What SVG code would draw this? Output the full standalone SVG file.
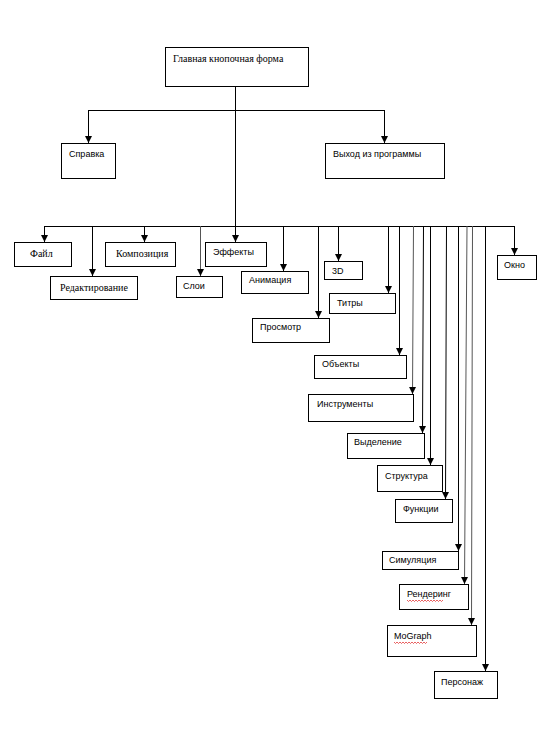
<svg xmlns="http://www.w3.org/2000/svg" width="542" height="737" viewBox="0 0 542 737">
<defs>
<marker id="ah" markerUnits="userSpaceOnUse" markerWidth="8" markerHeight="8" refX="7" refY="3.5" orient="auto">
<path d="M0,0 L7,3.5 L0,7 z" fill="#000"/>
</marker>
<style>
.box{fill:#fff;stroke:#000;stroke-width:1}
.ln{fill:none;stroke:#000;stroke-width:1}
.g{stroke:#555}
.ar{marker-end:url(#ah)}
.s{font-family:"Liberation Sans",Arial,sans-serif;font-size:9px;fill:#000}
.t{font-family:"Liberation Serif","Times New Roman",serif;font-size:10px;fill:#000}
.wv{fill:none;stroke:#e02020;stroke-width:0.7}
</style>
</defs>
<rect width="542" height="737" fill="#fff"/>
<g id="connectors">
<path class="ln ar" d="M235.5,87 V242"/>
<path class="ln" d="M88.5,110.5 H384.5"/>
<path class="ln ar" d="M88.5,110 V143"/>
<path class="ln ar" d="M384.5,110 V143"/>
<path class="ln" d="M44.5,226.5 H514.5"/>
<path class="ln ar" d="M44.5,226 V242"/>
<path class="ln ar" d="M92.5,226 V276"/>
<path class="ln ar" d="M144.5,226 V242"/>
<path class="ln g ar" d="M200.5,226 V276"/>
<path class="ln ar" d="M283.5,226 V271"/>
<path class="ln ar" d="M318.5,226 V318"/>
<path class="ln ar" d="M338.5,226 V261"/>
<path class="ln ar" d="M388.5,226 V293"/>
<path class="ln ar" d="M399.5,226 V355"/>
<path class="ln g ar" d="M413.5,226 L412.5,394"/>
<path class="ln ar" d="M423.5,226 L422.5,433"/>
<path class="ln ar" d="M430.5,226 V465"/>
<path class="ln ar" d="M446.5,226 L445.5,499"/>
<path class="ln ar" d="M458.5,226 V551"/>
<path class="ln g ar" d="M467,226 L464.5,584"/>
<path class="ln g ar" d="M472.5,226 L471.5,625"/>
<path class="ln ar" d="M485.5,226 V671"/>
<path class="ln ar" d="M514.5,226 V255"/>
</g>
<g id="main"><rect class="box" x="165.5" y="47.5" width="143" height="39"/><text class="t" x="173" y="62">Главная кнопочная форма</text></g>
<g id="spravka"><rect class="box" x="61.5" y="143.5" width="54" height="35"/><text class="s" x="69" y="157">Справка</text></g>
<g id="vyhod"><rect class="box" x="325.5" y="143.5" width="119" height="35"/><text class="s" x="333" y="157">Выход из программы</text></g>
<g id="fail"><rect class="box" x="14.5" y="242.5" width="57" height="24"/><text class="t" x="30" y="257">Файл</text></g>
<g id="redakt"><rect class="box" x="50.5" y="276.5" width="87" height="23"/><text class="t" x="60" y="291">Редактирование</text></g>
<g id="kompoz"><rect class="box" x="105.5" y="242.5" width="70" height="24"/><text class="t" x="116" y="257">Композиция</text></g>
<g id="sloi"><rect class="box" x="176.5" y="276.5" width="46" height="21"/><text class="s" x="183" y="289">Слои</text></g>
<g id="effekty"><rect class="box" x="205.5" y="242.5" width="61" height="24"/><text class="s" x="213" y="255">Эффекты</text></g>
<g id="animacia"><rect class="box" x="241.5" y="271.5" width="67" height="22"/><text class="s" x="249" y="283">Анимация</text></g>
<g id="prosmotr"><rect class="box" x="252.5" y="318.5" width="77" height="24"/><text class="s" x="260" y="330">Просмотр</text></g>
<g id="d3"><rect class="box" x="324.5" y="261.5" width="38" height="18"/><text class="s" x="332" y="274">3D</text></g>
<g id="titry"><rect class="box" x="329.5" y="293.5" width="66" height="20"/><text class="s" x="337" y="306">Титры</text></g>
<g id="okno"><rect class="box" x="497.5" y="255.5" width="39" height="24"/><text class="s" x="504" y="268">Окно</text></g>
<g id="obekty"><rect class="box" x="314.5" y="355.5" width="92" height="23"/><text class="s" x="322" y="367">Объекты</text></g>
<g id="instr"><rect class="box" x="308.5" y="394.5" width="105" height="27"/><text class="s" x="317" y="407">Инструменты</text></g>
<g id="vydel"><rect class="box" x="347.5" y="433.5" width="77" height="25"/><text class="s" x="354" y="445">Выделение</text></g>
<g id="struktura"><rect class="box" x="377.5" y="465.5" width="65" height="26"/><text class="s" x="385" y="479">Структура</text></g>
<g id="funkcii"><rect class="box" x="395.5" y="499.5" width="57" height="23"/><text class="s" x="403" y="512">Функции</text></g>
<g id="simul"><rect class="box" x="382.5" y="551.5" width="76" height="18"/><text class="s" x="389" y="563">Симуляция</text></g>
<g id="render"><rect class="box" x="399.5" y="584.5" width="69" height="25"/><text class="s" x="407" y="597">Рендеринг</text>
<path class="wv" d="M407,600 l1.5,1.5 l1.5,-1.5 l1.5,1.5 l1.5,-1.5 l1.5,1.5 l1.5,-1.5 l1.5,1.5 l1.5,-1.5 l1.5,1.5 l1.5,-1.5 l1.5,1.5 l1.5,-1.5 l1.5,1.5 l1.5,-1.5 l1.5,1.5 l1.5,-1.5 l1.5,1.5 l1.5,-1.5 l1.5,1.5 l1.5,-1.5 l1.5,1.5 l1.5,-1.5 l1.5,1.5 l1.5,-1.5"/></g>
<g id="mograph"><rect class="box" x="387.5" y="625.5" width="89" height="31"/><text class="s" x="394" y="639">MoGraph</text>
<path class="wv" d="M394,642 l1.5,1.5 l1.5,-1.5 l1.5,1.5 l1.5,-1.5 l1.5,1.5 l1.5,-1.5 l1.5,1.5 l1.5,-1.5 l1.5,1.5 l1.5,-1.5 l1.5,1.5 l1.5,-1.5 l1.5,1.5 l1.5,-1.5 l1.5,1.5 l1.5,-1.5 l1.5,1.5 l1.5,-1.5 l1.5,1.5 l1.5,-1.5 l1.5,1.5 l1.5,-1.5"/></g>
<g id="personazh"><rect class="box" x="434.5" y="671.5" width="63" height="27"/><text class="s" x="441" y="685">Персонаж</text></g>
</svg>
